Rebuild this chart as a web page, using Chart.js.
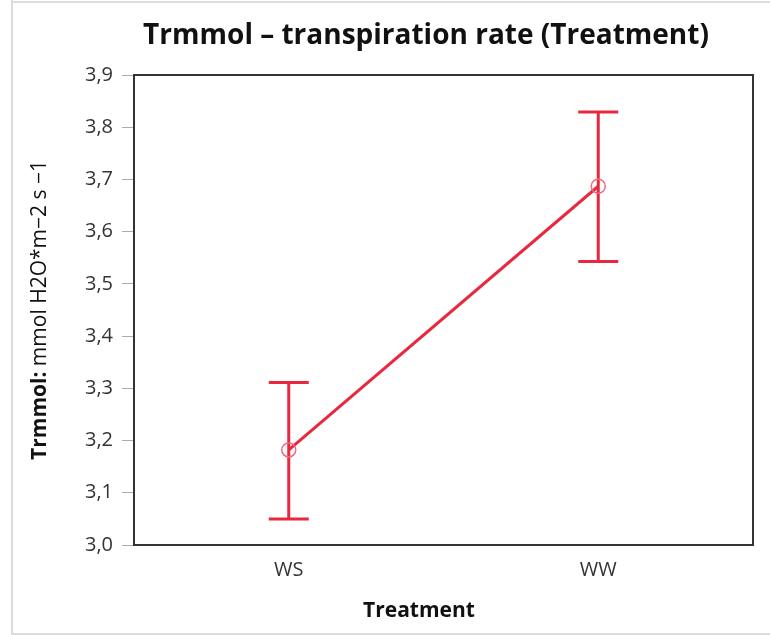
<!DOCTYPE html>
<html lang="en">
<head>
  <meta charset="UTF-8">
  <title>Trmmol – transpiration rate (Treatment)</title>
  <script src="https://cdn.jsdelivr.net/npm/chart.js"></script>
  <style>
    html, body { margin: 0; padding: 0; background: #fff; }
    #wrap { width: 770px; height: 635px; }
  </style>
</head>
<body>

<div id="wrap"><canvas id="grafico" width="770" height="635"></canvas></div>

<script>
  // dados (média e intervalo)
  const treatments = ['WS', 'WW'];
  const means = [3.182, 3.687];
  const lowerCI = [3.050, 3.543];
  const upperCI = [3.311, 3.829];

  const yMin = 3.0;
  const yMax = 3.9;
  const yStep = 0.1;

  const titleText = 'Trmmol – transpiration rate (Treatment)';
  const xTitle = 'Treatment';
  const yTitleBold = 'Trmmol:';
  const yTitleRest = ' mmol H2O*m−2 s −1';

  const red = '#e8283f';
  const fontFamily = '"Open Sans", "Noto Sans", sans-serif';

  // barras de erro, moldura e textos
  const decoracao = {
    id: 'decoracao',
    beforeDatasetsDraw(chart) {
      const ctx = chart.ctx;
      const xs = chart.scales.x;
      const ys = chart.scales.y;
      ctx.save();
      ctx.strokeStyle = red;
      ctx.lineWidth = 3;
      treatments.forEach((t, i) => {
        const x = xs.getPixelForValue(i);
        const yLo = ys.getPixelForValue(lowerCI[i]);
        const yHi = ys.getPixelForValue(upperCI[i]);
        ctx.beginPath();
        ctx.moveTo(x, yLo);
        ctx.lineTo(x, yHi);
        ctx.moveTo(x - 20, yLo);
        ctx.lineTo(x + 20, yLo);
        ctx.moveTo(x - 20, yHi);
        ctx.lineTo(x + 20, yHi);
        ctx.stroke();
      });
      ctx.restore();
    },
    afterDraw(chart) {
      const ctx = chart.ctx;
      const a = chart.chartArea;
      ctx.save();

      // moldura externa clara
      ctx.strokeStyle = '#dcdcdc';
      ctx.lineWidth = 2;
      ctx.beginPath();
      ctx.moveTo(12, 0);
      ctx.lineTo(12, 634);
      ctx.lineTo(770, 634);
      ctx.moveTo(12, 2);
      ctx.lineTo(770, 2);
      ctx.stroke();

      // caixa do gráfico
      ctx.strokeStyle = '#333';
      ctx.lineWidth = 2;
      ctx.strokeRect(a.left, a.top, a.right - a.left, a.bottom - a.top);

      // título
      ctx.fillStyle = '#111';
      ctx.textAlign = 'center';
      ctx.textBaseline = 'middle';
      ctx.font = 'bold 28px ' + fontFamily;
      ctx.fillText(titleText, 426, 36);

      // título eixo x
      ctx.font = 'bold 21px ' + fontFamily;
      ctx.fillText(xTitle, 419, 611);

      // título eixo y (parte em negrito)
      ctx.translate(40, (a.top + a.bottom) / 2);
      ctx.rotate(-Math.PI / 2);
      ctx.textAlign = 'left';
      ctx.font = 'bold 21px ' + fontFamily;
      const w1 = ctx.measureText(yTitleBold).width;
      ctx.font = '21px ' + fontFamily;
      const w2 = ctx.measureText(yTitleRest).width;
      const start = -(w1 + w2) / 2;
      ctx.font = 'bold 21px ' + fontFamily;
      ctx.fillText(yTitleBold, start, 0);
      ctx.font = '21px ' + fontFamily;
      ctx.fillText(yTitleRest, start + w1, 0);

      ctx.restore();
    }
  };

  new Chart(document.getElementById('grafico').getContext('2d'), {
    type: 'line',
    data: {
      labels: treatments,
      datasets: [{
        data: means,
        borderColor: red,
        borderWidth: 3,
        pointStyle: 'circle',
        pointRadius: 7,
        pointBorderWidth: 1.5,
        pointBorderColor: '#ee6a80',
        pointBackgroundColor: 'rgba(0,0,0,0)'
      }]
    },
    options: {
      responsive: false,
      animation: false,
      layout: { padding: { left: 0, right: 17, top: 75, bottom: 0 } },
      plugins: {
        legend: { display: false },
        tooltip: { enabled: false }
      },
      scales: {
        x: {
          offset: true,
          grid: { display: false },
          border: { display: false },
          ticks: {
            color: '#333',
            padding: 5,
            font: { family: fontFamily, size: 20 }
          },
          afterFit(scale) { scale.height = 90; }
        },
        y: {
          min: yMin,
          max: yMax,
          grid: {
            drawOnChartArea: false,
            drawTicks: true,
            tickLength: 12,
            color: '#aaa',
            lineWidth: 1
          },
          border: { display: false },
          ticks: {
            stepSize: yStep,
            color: '#333',
            padding: 9,
            font: { family: fontFamily, size: 20 },
            callback: v => v.toFixed(1).replace('.', ',')
          },
          afterFit(scale) { scale.width = 134; }
        }
      }
    },
    plugins: [decoracao]
  });
</script>

</body>
</html>
